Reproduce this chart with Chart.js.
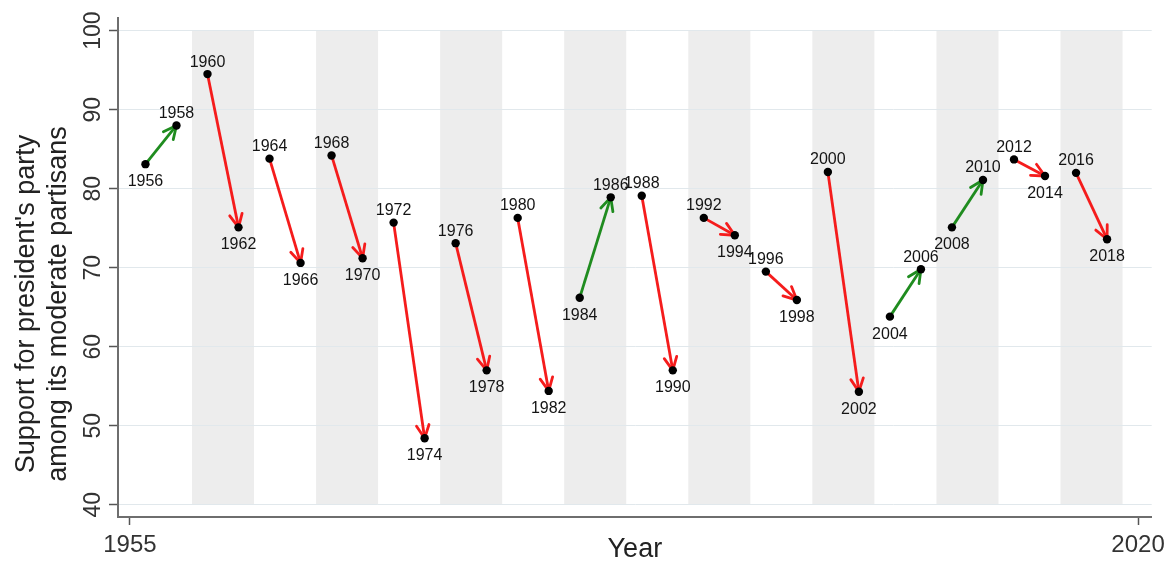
<!DOCTYPE html>
<html>
<head>
<meta charset="utf-8">
<script src="https://cdn.jsdelivr.net/npm/chart.js@4.4.1/dist/chart.umd.min.js"></script>
<style>
  html, body { margin: 0; padding: 0; background: #fff; }
  #wrap { width: 1171px; height: 562px; position: relative; }
</style>
</head>
<body>
<div id="wrap"><canvas id="myChart"></canvas></div>
<script>
// election years, paired (presidential year -> following midterm)
const years = [1956, 1958, 1960, 1962, 1964, 1966, 1968, 1970, 1972, 1974,
  1976, 1978, 1980, 1982, 1984, 1986, 1988, 1990, 1992, 1994, 1996, 1998,
  2000, 2002, 2004, 2006, 2008, 2010, 2012, 2014, 2016, 2018];
const support = [83.1, 88.0, 94.5, 75.1, 83.8, 70.6, 84.2, 71.2, 75.7, 48.4,
  73.1, 57.0, 76.3, 54.4, 66.2, 78.9, 79.1, 57.0, 76.3, 74.1, 69.5, 65.9,
  82.1, 54.3, 63.8, 69.8, 75.1, 81.1, 83.7, 81.6, 82.0, 73.6];
// shaded presidential terms (start year, 4 years each)
const bandStarts = [1959, 1967, 1975, 1983, 1991, 1999, 2007, 2015];
const bandYears = 4;
const xTicks = [1955, 2020];
const yTicks = [40, 50, 60, 70, 80, 90, 100];

const FONT = "'Liberation Sans', Arial, sans-serif";
const GREEN = '#1f8c1f';
const RED = '#f51c1c';

const points = years.map((yr, i) => ({x: yr, y: support[i]}));

// one small line dataset per pair
const arrowSets = [];
for (let i = 0; i + 1 < years.length; i += 2) {
  const up = support[i + 1] > support[i];
  arrowSets.push({
    type: 'line',
    data: [points[i], points[i + 1]],
    borderColor: up ? GREEN : RED,
    borderWidth: 2.8,
    pointRadius: 0,
    fill: false,
    isArrow: true
  });
}

const bands = {
  id: 'bands',
  beforeDraw(chart) {
    const {ctx, scales: {x, y}} = chart;
    ctx.save();
    ctx.fillStyle = '#ededed';
    const top = y.getPixelForValue(100), bot = y.getPixelForValue(40);
    bandStarts.forEach(s => {
      const l = x.getPixelForValue(s), r = x.getPixelForValue(s + bandYears);
      ctx.fillRect(l, top, r - l, bot - top);
    });
    ctx.restore();
  }
};

const arrowHeads = {
  id: 'arrowHeads',
  afterDatasetDraw(chart, args) {
    const ds = chart.data.datasets[args.index];
    if (!ds.isArrow) return;
    const pts = args.meta.data;
    const a = pts[0], b = pts[1];
    const ang = Math.atan2(b.y - a.y, b.x - a.x);
    const len = 14.5, spread = 0.45;
    const ctx = chart.ctx;
    ctx.save();
    ctx.strokeStyle = ds.borderColor;
    ctx.lineWidth = 2.8;
    ctx.lineCap = 'round';
    ctx.lineJoin = 'round';
    ctx.beginPath();
    ctx.moveTo(b.x - len * Math.cos(ang - spread), b.y - len * Math.sin(ang - spread));
    ctx.lineTo(b.x, b.y);
    ctx.lineTo(b.x - len * Math.cos(ang + spread), b.y - len * Math.sin(ang + spread));
    ctx.stroke();
    ctx.restore();
  }
};

const yearLabels = {
  id: 'yearLabels',
  afterDatasetsDraw(chart) {
    const ctx = chart.ctx;
    const meta = chart.getDatasetMeta(0);
    ctx.save();
    ctx.font = '16px ' + FONT;
    ctx.fillStyle = '#141414';
    ctx.textAlign = 'center';
    ctx.textBaseline = 'middle';
    meta.data.forEach((p, i) => {
      const mate = i % 2 === 0 ? i + 1 : i - 1;
      const higher = support[i] >= support[mate];
      ctx.fillText(String(years[i]), p.x, higher ? p.y - 12 : p.y + 17.5);
    });
    ctx.restore();
  },
  afterDraw(chart) {
    const ctx = chart.ctx;
    const y = chart.scales.y;
    ctx.save();
    ctx.fillStyle = '#333';
    ctx.textAlign = 'center';
    ctx.textBaseline = 'alphabetic';
    ctx.font = '23px ' + FONT;
    y.ticks.forEach(t => {
      ctx.save();
      ctx.translate(100, y.getPixelForValue(t.value));
      ctx.rotate(-Math.PI / 2);
      ctx.fillText(String(t.value), 0, 0);
      ctx.restore();
    });
    // y axis title, two lines
    ctx.fillStyle = '#222';
    ctx.font = '27px ' + FONT;
    [["Support for president's party", 33.5], ['among its moderate partisans', 65.5]].forEach(([txt, bx]) => {
      ctx.save();
      ctx.translate(bx, 304);
      ctx.rotate(-Math.PI / 2);
      ctx.fillText(txt, 0, 0);
      ctx.restore();
    });
    ctx.restore();
  }
};

const config = {
  type: 'scatter',
  data: {
    datasets: [{
      data: points,
      pointRadius: 4.2,
      pointBackgroundColor: '#000',
      pointBorderColor: '#000',
      pointBorderWidth: 0,
      showLine: false
    }].concat(arrowSets)
  },
  options: {
    responsive: true,
    maintainAspectRatio: false,
    animation: false,
    layout: { padding: { top: 18, right: 18, left: 0, bottom: 0 } },
    scales: {
      x: {
        type: 'linear',
        min: 1954.23,
        max: 2020.88,
        afterBuildTicks: s => { s.ticks = xTicks.map(v => ({value: v})); },
        afterFit: s => { s.height = 45; },
        ticks: {
          callback: v => String(v),
          font: { family: FONT, size: 24 },
          color: '#333',
          padding: 6,
          maxRotation: 0,
          autoSkip: false
        },
        grid: {
          drawOnChartArea: false,
          drawTicks: true,
          tickLength: 8,
          tickColor: '#555',
          tickWidth: 1.5
        },
        border: { display: true, color: '#6e6e6e', width: 2 },
        title: {
          display: true,
          text: 'Year',
          color: '#222',
          font: { family: FONT, size: 27, lineHeight: 0.9 },
          padding: 0
        }
      },
      y: {
        type: 'linear',
        min: 38.44,
        max: 101.6,
        afterBuildTicks: s => { s.ticks = yTicks.map(v => ({value: v})); },
        afterFit: s => { s.width = 118; },
        ticks: { display: false },
        grid: {
          color: '#e1e8ec',
          lineWidth: 1,
          drawTicks: true,
          tickLength: 9,
          tickColor: '#555',
          tickWidth: 1.5
        },
        border: { display: true, color: '#6e6e6e', width: 2 },
        title: { display: false }
      }
    },
    plugins: {
      legend: { display: false },
      tooltip: { enabled: false }
    }
  },
  plugins: [bands, arrowHeads, yearLabels]
};

const myChart = new Chart(document.getElementById('myChart'), config);
</script>
</body>
</html>
